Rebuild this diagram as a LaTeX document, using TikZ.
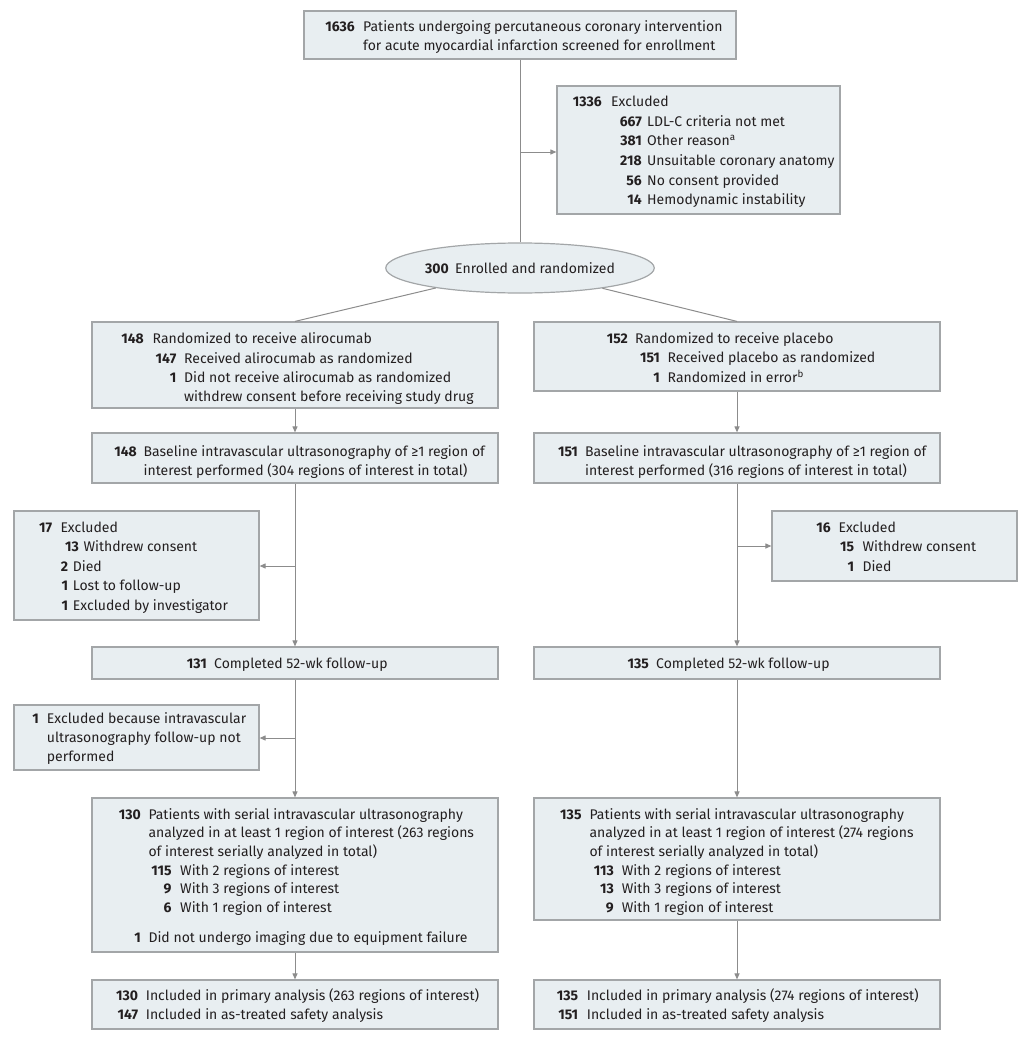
\documentclass[tikz,border=0pt]{standalone}
\usepackage{fontspec}
\setmainfont{Fira Sans}
\usetikzlibrary{arrows.meta,shapes.geometric}
\definecolor{boxfill}{HTML}{E8EEF1}
\definecolor{boxline}{HTML}{A3A6A8}
\definecolor{connc}{HTML}{8C8C8C}
\definecolor{ink}{HTML}{231F20}
\newcommand\figfs{\fontsize{14pt}{17pt}\selectfont}
\newcounter{lc}
\newcommand\Row[5]{\stepcounter{lc}%
  \node[numtxt] (n\thelc) at (#1,#3) {#4};%
  \node[bodytxt] (t\thelc) at (#2,#3) {#5};}
\newcommand\Cont[3]{\stepcounter{lc}\node[bodytxt] (t\thelc) at (#1,#2) {#3};}
\newcommand\BoxN[5]{\node[box, minimum width={#4pt-#2pt}, minimum height={#5pt-#3pt}] (#1) at ({(#2+#4)/2},{(#3+#5)/2}) {};}
\tikzset{
 box/.style={draw=boxline, fill=boxfill, line width=1.2pt, rectangle, inner sep=0pt},
 numtxt/.style={anchor=base east, inner sep=0pt, font=\figfs\bfseries, text=ink},
 bodytxt/.style={anchor=base west, inner sep=0pt, font=\figfs, text=ink},
 conn/.style={draw=connc, line width=1pt},
 arr/.style={conn, -{Triangle[length=6pt,width=5pt]}},
}
\begin{document}
\begin{tikzpicture}[x=1pt,y=-1pt]
\useasboundingbox (0,0) rectangle (1031,1038);
% boxes
\BoxN{top}{304}{11}{736}{59}
\BoxN{ex1}{557}{86}{840}{214}
\BoxN{lr}{92}{322}{498}{408}
\BoxN{rr}{534}{322}{940}{391}
\BoxN{lb}{92}{433}{498}{483}
\BoxN{rb}{534}{433}{940}{483}
\BoxN{lx2}{14}{511}{259}{620}
\BoxN{rx2}{772}{511}{1017}{581}
\BoxN{lc}{92}{647}{498}{679}
\BoxN{rc}{534}{647}{940}{679}
\BoxN{lx3}{14}{705}{259}{770}
\BoxN{ls}{92}{798}{498}{952}
\BoxN{rs}{534}{798}{940}{920}
\BoxN{lf}{92}{980}{498}{1029}
\BoxN{rf}{534}{980}{940}{1029}
\node[ellipse, draw=boxline, fill=boxfill, line width=1.2pt, minimum width=233pt, minimum height=50pt, inner sep=0pt, font=\figfs, text=ink] (ell) at (520,268) {\textbf{300}\hspace{6.5pt}Enrolled and randomized};
% connectors
\draw[conn] (top.south) -- (ell.north);
\coordinate (j1) at (520,152);
\draw[arr] (j1) -- (ex1.west |- j1);
\draw[conn] (ell) -- (lr.north);
\draw[conn] (ell) -- (rr.north);
\draw[arr] (lr.south) -- (lb.north);
\draw[arr] (rr.south) -- (rb.north);
\draw[arr] (lb.south) -- (lc.north);
\coordinate (j2) at (295,566);
\draw[arr] (j2) -- (lx2.east |- j2);
\draw[arr] (rb.south) -- (rc.north);
\coordinate (j3) at (737,546);
\draw[arr] (j3) -- (rx2.west |- j3);
\draw[arr] (lc.south) -- (ls.north);
\coordinate (j4) at (295,738);
\draw[arr] (j4) -- (lx3.east |- j4);
\draw[arr] (rc.south) -- (rs.north);
\draw[arr] (ls.south) -- (lf.north);
\draw[arr] (rs.south) -- (rf.north);
% texts
\Row{355}{363}{32}{1636}{Patients undergoing percutaneous coronary intervention}
\Cont{363}{51}{for acute myocardial infarction screened for enrollment}
\Row{602}{611}{107}{1336}{Excluded}
\Row{642}{647}{126.5}{667}{LDL-C criteria not met}
\Row{642}{647}{146}{381}{Other reason\textsuperscript{a}}
\Row{642}{647}{165.5}{218}{Unsuitable coronary anatomy}
\Row{642}{647}{185}{56}{No consent provided}
\Row{642}{647}{204.5}{14}{Hemodynamic instability}
\Row{144}{152.5}{343}{148}{Randomized to receive alirocumab}
\Row{176.5}{184}{363}{147}{Received alirocumab as randomized}
\Row{176.5}{184}{382.5}{1}{Did not receive alirocumab as randomized}
\Cont{184}{401.5}{withdrew consent before receiving study drug}
\Row{628}{635}{343}{152}{Randomized to receive placebo}
\Row{660}{667.5}{362.5}{151}{Received placebo as randomized}
\Row{660}{667.5}{382.5}{1}{Randomized in error\textsuperscript{b}}
\Row{137}{143.5}{456}{148}{Baseline intravascular ultrasonography of ≥1 region of}
\Cont{143.5}{475}{interest performed (304 regions of interest in total)}
\Row{578}{585}{456}{151}{Baseline intravascular ultrasonography of ≥1 region of}
\Cont{585}{475}{interest performed (316 regions of interest in total)}
\Row{52.3}{60.3}{532}{17}{Excluded}
\Row{79}{83.3}{551.5}{13}{Withdrew consent}
\Row{68.3}{72.7}{571}{2}{Died}
\Row{68.3}{72.7}{590.5}{1}{Lost to follow-up}
\Row{68.3}{72.7}{610}{1}{Excluded by investigator}
\Row{831}{838.3}{532}{16}{Excluded}
\Row{854.3}{862.3}{551.5}{15}{Withdrew consent}
\Row{854.3}{862.3}{571}{1}{Died}
\Row{207}{214}{668}{131}{Completed 52-wk follow-up}
\Row{649}{656}{668}{135}{Completed 52-wk follow-up}
\Row{39}{46.7}{723.5}{1}{Excluded because intravascular}
\Cont{46.7}{742.5}{ultrasonography follow-up not}
\Cont{46.7}{761.5}{performed}
\Row{141}{148.3}{819}{130}{Patients with serial intravascular ultrasonography}
\Cont{148.3}{837.7}{analyzed in at least 1 region of interest (263 regions}
\Cont{148.3}{856.4}{of interest serially analyzed in total)}
\Row{171.7}{180}{875.1}{115}{With 2 regions of interest}
\Row{171.7}{180}{893.8}{9}{With 3 regions of interest}
\Row{171.7}{180}{912.5}{6}{With 1 region of interest}
\Row{141}{148.3}{942}{1}{Did not undergo imaging due to equipment failure}
\Row{581.7}{589.3}{819}{135}{Patients with serial intravascular ultrasonography}
\Cont{589.3}{837.7}{analyzed in at least 1 region of interest (274 regions}
\Cont{589.3}{856.4}{of interest serially analyzed in total)}
\Row{614}{621.7}{875.1}{113}{With 2 regions of interest}
\Row{614}{621.7}{893.8}{13}{With 3 regions of interest}
\Row{614}{621.7}{912.5}{9}{With 1 region of interest}
\Row{138.3}{145.7}{1000}{130}{Included in primary analysis (263 regions of interest)}
\Row{138.3}{145.7}{1019}{147}{Included in as-treated safety analysis}
\Row{578.3}{586.7}{1000}{135}{Included in primary analysis (274 regions of interest)}
\Row{578.3}{586.7}{1019}{151}{Included in as-treated safety analysis}
\end{tikzpicture}
\end{document}
